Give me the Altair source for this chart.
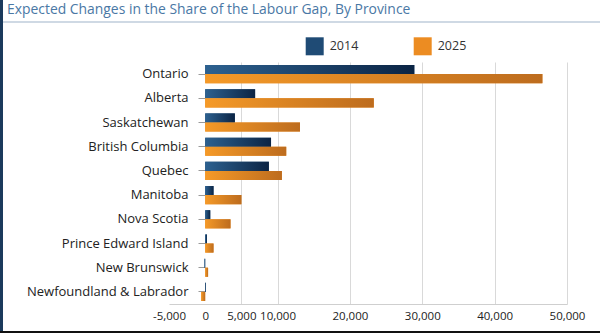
import altair as alt
import pandas as pd

provinces = ["Ontario", "Alberta", "Saskatchewan", "British Columbia", "Quebec",
             "Manitoba", "Nova Scotia", "Prince Edward Island", "New Brunswick",
             "Newfoundland & Labrador"]
years = ["2014", "2025"]
gap_2014 = [28900, 6900, 4100, 9100, 8800, 1150, 700, 250, -100, 100]
gap_2025 = [46600, 23300, 13100, 11200, 10600, 5000, 3500, 1150, 400, -550]
x_ticks = [-5000, 0, 5000, 10000, 20000, 30000, 40000, 50000]
title_text = "Expected Changes in the Share of the Labour Gap, By Province"

rows = []
for p, a, b in zip(provinces, gap_2014, gap_2025):
    rows.append({"province": p, "year": "2014", "value": a})
    rows.append({"province": p, "year": "2025", "value": b})
df = pd.DataFrame(rows)

FONT = "Open Sans"

x_axis = alt.Axis(
    values=x_ticks, title=None, ticks=False, labelOverlap=False, labelFlush=False,
    labelExpr="(datum.value < 0 ? '-' : '') + format(abs(datum.value), ',')",
    labelFontSize=11.5, labelColor="#222", labelFont=FONT, labelPadding=6,
    domainColor="#cfcfcf", domainWidth=1,
    grid=True,
    gridColor={"condition": {"test": "datum.value <= 0", "value": "rgba(0,0,0,0)"},
               "value": "#d9d9d9"},
    gridWidth=1,
)
y_axis = alt.Axis(
    title=None, domain=False, offset=-36, tickSize=7, tickColor="#9a9a9a",
    labelFontSize=13, labelColor="#222", labelFont=FONT, labelPadding=10,
    labelLimit=300,
)

X = alt.X("value:Q", scale=alt.Scale(domain=[-5000, 50000], nice=False, zero=False), axis=x_axis)
Y = alt.Y("province:N", sort=provinces,
          scale=alt.Scale(paddingInner=0.25, paddingOuter=0.125), axis=y_axis)
YO = alt.YOffset("year:N", sort=years, scale=alt.Scale(domain=years, paddingInner=0, paddingOuter=0))

base = alt.Chart(df)

legend_bars = base.mark_bar().encode(
    x=X, y=Y, yOffset=YO,
    color=alt.Color("year:N", scale=alt.Scale(domain=years, range=["#1f4b75", "#ec8c22"]),
                    legend=alt.Legend(title=None, orient="none", legendX=136.7, legendY=-24.7,
                                      direction="horizontal", symbolType="square",
                                      symbolSize=324, symbolStrokeWidth=0,
                                      labelFontSize=12.5, labelFont=FONT, labelColor="#333",
                                      labelOffset=6, columnPadding=55)),
)

blue_grad = alt.Gradient(gradient="linear", x1=0, x2=1, y1=0, y2=0,
                         stops=[alt.GradientStop(color="#2d6190", offset=0),
                                alt.GradientStop(color="#0b2444", offset=1)])
orange_grad = alt.Gradient(gradient="linear", x1=0, x2=1, y1=0, y2=0,
                           stops=[alt.GradientStop(color="#f59a28", offset=0),
                                  alt.GradientStop(color="#bd6c1e", offset=1)])

bars_2014 = base.transform_filter(alt.datum.year == "2014").mark_bar(color=blue_grad).encode(
    x=X, y=Y, yOffset=YO)
bars_2025 = base.transform_filter(alt.datum.year == "2025").mark_bar(color=orange_grad).encode(
    x=X, y=Y, yOffset=YO)

one = alt.Chart(pd.DataFrame({"t": [title_text]}))
title = one.mark_text(align="left", baseline="alphabetic", fontSize=13.9, font=FONT,
                      color="#4a78a5").encode(
    text="t:N", x=alt.value(-162), y=alt.value(-48))
title_rule = one.mark_rule(color="#9fb4c9", strokeWidth=1.2).encode(
    x=alt.value(-166), x2=alt.value(431), y=alt.value(-40))
left_border = one.mark_rule(color="#1b3a5c", strokeWidth=3).encode(
    x=alt.value(-167.5), y=alt.value(-62), y2=alt.value(271))
bottom_strip = one.mark_rule(color="#111", strokeWidth=3).encode(
    x=alt.value(-169), x2=alt.value(431), y=alt.value(270.5))

chart = alt.layer(legend_bars, bars_2014, bars_2025, title, title_rule, left_border, bottom_strip).properties(
    width=398, height=242,
    autosize=alt.AutoSizeParams(type="none"),
    padding={"left": 169, "top": 62, "right": 33, "bottom": 29},
    background="white",
).configure_view(stroke=None)

chart.save("out.html", embed_options={"renderer": "svg", "actions": False})
